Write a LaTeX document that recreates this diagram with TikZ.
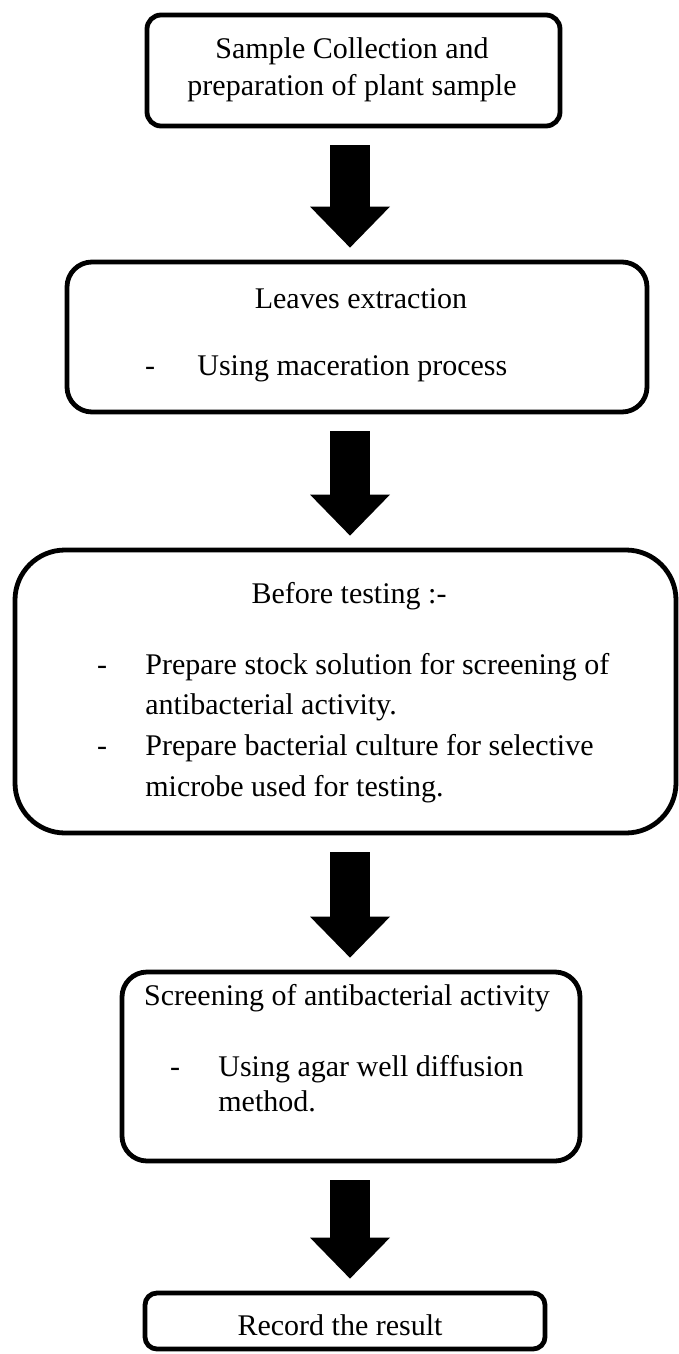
\documentclass[tikz,border=0pt]{standalone}
\usepackage{fontspec}
\setmainfont{Liberation Serif}
\usetikzlibrary{arrows.meta, fit}

\begin{document}
\begin{tikzpicture}[
            x=0.5pt, y=-0.5pt,
            stepbox/.style={draw=black, line width=2.4pt, rounded corners=#1, inner sep=0pt},
            stepbox/.default=8pt,
            steptext/.style={anchor=base, inner sep=0pt, font=\fontsize{15}{18.5}\selectfont},
            listtext/.style={anchor=base west, inner sep=0pt, font=\fontsize{15}{18.5}\selectfont},
            downarrow/.style={draw=black, line width=20pt, -{Triangle[width=40pt, length=20.5pt, line width=0pt]}, shorten <=8.5pt, shorten >=6pt}
        ]
            \useasboundingbox (0,0) rectangle (679,1354);

            % boxes
            \node[stepbox=7pt, fit={(147,15) (560,126)}] (sample) {};
            \node[stepbox=12.5pt, fit={(67,262) (647,412)}] (leaves) {};
            \node[stepbox=25pt, fit={(15,550) (676,833)}] (before) {};
            \node[stepbox=12.5pt, fit={(122,972) (580,1161)}] (screen) {};
            \node[stepbox=6pt, fit={(145,1293) (545,1349)}] (record) {};

            % texts
            \node[steptext] (sampleA) at (352, 59) {Sample Collection and};
            \node[steptext] (sampleB) at (352, 96) {preparation of plant sample};

            \node[steptext] (leavesA) at (361, 308) {Leaves extraction};
            \node[steptext] (leavesdash) at (150, 375) {-};
            \node[listtext] (leavesB) at (197, 375) {Using maceration process};

            \node[steptext] (beforeA) at (349, 603) {Before testing :-};
            \node[steptext] (beforedashA) at (102, 674) {-};
            \node[listtext] (beforeB) at (145, 674) {Prepare stock solution for screening of};
            \node[listtext] (beforeC) at (145, 714) {antibacterial activity.};
            \node[steptext] (beforedashB) at (102, 755) {-};
            \node[listtext] (beforeD) at (145, 755) {Prepare bacterial culture for selective};
            \node[listtext] (beforeE) at (145, 796) {microbe used for testing.};

            \node[steptext] (screenA) at (347, 1005) {Screening of antibacterial activity};
            \node[steptext] (screendash) at (175, 1076) {-};
            \node[listtext] (screenB) at (218, 1076) {Using agar well diffusion};
            \node[listtext] (screenC) at (218, 1111) {method.};

            \node[steptext] (recordA) at (340, 1335) {Record the result};

            % arrows
            \coordinate (spine) at (350, 0);
            \draw[downarrow] (sample.south -| spine) -- (leaves.north -| spine);
            \draw[downarrow] (leaves.south -| spine) -- (before.north -| spine);
            \draw[downarrow] (before.south -| spine) -- (screen.north -| spine);
            \draw[downarrow] (screen.south -| spine) -- (record.north -| spine);

        \end{tikzpicture}
\end{document}
